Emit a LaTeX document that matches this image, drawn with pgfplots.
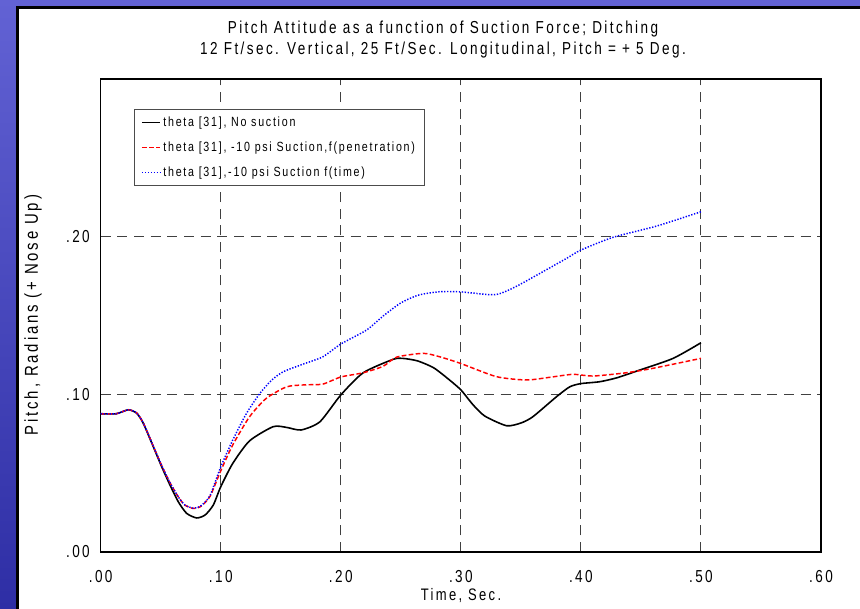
\documentclass[border=0pt]{standalone}
\usepackage{fontspec}
\setmainfont{Liberation Sans}[FakeStretch=0.78, LetterSpace=14]
\newfontfamily\legfont{Liberation Sans}[FakeStretch=0.8, LetterSpace=13]
\newfontfamily\ylabfont{Liberation Sans}[FakeStretch=0.8, LetterSpace=15]
\usepackage{pgfplots}
\pgfplotsset{compat=1.18}
\definecolor{bgtop}{RGB}{98,98,212}
\definecolor{bgbot}{RGB}{46,46,165}
\begin{document}
\begin{tikzpicture}[x=0.75pt,y=0.75pt]
\shade[top color=bgtop,bottom color=bgbot] (0,0) rectangle (860,608);
\filldraw[fill=white,draw=black,line width=1.6pt] (17.5,-20) rectangle (880,600.5);
\node[font=\fontsize{13}{15}\selectfont] at (443,579) {Pitch Attitude as a function of Suction Force; Ditching};
\node[font=\fontsize{13}{15}\selectfont] at (443,558) {12 Ft/sec. Vertical, 25 Ft/Sec. Longitudinal, Pitch = + 5 Deg.};
\node[font=\ylabfont\fontsize{14}{16}\selectfont,rotate=90] at (33,293) {Pitch, Radians (+ Nose Up)};
\node[font=\fontsize{12.5}{14}\selectfont] at (461,12.5) {Time, Sec.};
\begin{axis}[
  at={(75.53pt,42pt)}, anchor=south west,
  scale only axis, width=540.2pt, height=354.75pt,
  xmin=0, xmax=0.6, ymin=0, ymax=0.3,
  xtick={0,0.1,0.2,0.3,0.4,0.5,0.6},
  xticklabels={.00,.10,.20,.30,.40,.50,.60},
  ytick={0,0.1,0.2},
  yticklabels={.00,.10,.20},
  major tick length=0pt,
  axis line style={black,line width=1.1pt},
  grid=major,
  major grid style={black!75,line width=0.8pt,dash pattern=on 7.5pt off 5pt},
  tick label style={font=\fontsize{13}{15}\selectfont},
  xticklabel style={anchor=center,yshift=-18.5pt},
  yticklabel style={anchor=east,inner sep=0pt,xshift=-8pt},
  legend style={at={(0.046,0.937)},anchor=north west,draw=black!70,line width=1pt,
    font=\legfont\fontsize{10}{12}\selectfont,inner xsep=5pt,inner ysep=3.5pt,
    row sep=6pt, cells={anchor=west}},
]
\addplot[black,line width=1.2pt,smooth,tension=0.4,
  legend image code/.code={\draw[black,solid,line width=1.2pt] (0pt,0pt) -- (13.5pt,0pt);}] coordinates {
(0,0.0877)(0.013,0.0877)(0.023,0.0902)(0.030,0.0880)(0.0355,0.0816)(0.0438,0.0668)
(0.0508,0.0541)(0.0577,0.0425)(0.0646,0.0319)(0.0716,0.0245)(0.080,0.0216)(0.087,0.0235)
(0.0938,0.0298)(0.100,0.0414)(0.110,0.0562)(0.124,0.0705)(0.1437,0.0795)(0.155,0.0790)
(0.167,0.0774)(0.1826,0.0826)(0.200,0.0996)(0.2187,0.1137)(0.2436,0.1222)(0.2518,0.1228)
(0.264,0.1212)(0.277,0.1170)(0.2875,0.1110)(0.2998,0.1030)(0.31,0.0935)(0.32,0.0862)
(0.338,0.0801)(0.350,0.0818)(0.360,0.0858)(0.3797,0.0985)(0.3908,0.1048)(0.400,0.1068)
(0.4157,0.1080)(0.430,0.1105)(0.449,0.1154)(0.4768,0.1228)(0.500,0.1327)};
\addlegendentry{theta [31], No suction}
\addplot[red,line width=1.1pt,dash pattern=on 3.5pt off 1.8pt,smooth,tension=0.4,
  legend image code/.code={\draw[red,line width=1.2pt,dash pattern=on 3.5pt off 1.8pt] (0pt,0pt) -- (13.5pt,0pt);}] coordinates {
(0,0.0877)(0.013,0.0877)(0.023,0.0902)(0.030,0.0882)(0.0355,0.0818)(0.0438,0.0672)
(0.0508,0.0548)(0.0577,0.0440)(0.0646,0.0350)(0.070,0.0298)(0.077,0.0276)(0.083,0.0287)
(0.091,0.0352)(0.100,0.0515)(0.110,0.0679)(0.124,0.0858)(0.138,0.0975)(0.155,0.1048)
(0.170,0.1060)(0.185,0.1065)(0.200,0.1110)(0.2187,0.1137)(0.2353,0.1178)(0.2465,0.1236)
(0.2686,0.1260)(0.2825,0.1238)(0.2998,0.1196)(0.3297,0.1112)(0.3547,0.1091)(0.374,0.1108)
(0.3935,0.1127)(0.41,0.1116)(0.438,0.1137)(0.46,0.1165)(0.50,0.1228)};
\addlegendentry{theta [31], -10 psi Suction,f(penetration)}
\addplot[blue,line width=1.1pt,dash pattern=on 1pt off 1.2pt,smooth,tension=0.4,
  legend image code/.code={\draw[blue,line width=1.2pt,dash pattern=on 1pt off 1.2pt] (0pt,0pt) -- (13.5pt,0pt);}] coordinates {
(0,0.0877)(0.013,0.0877)(0.023,0.0902)(0.030,0.0882)(0.0355,0.0818)(0.0438,0.0672)
(0.0508,0.0548)(0.0577,0.0440)(0.0646,0.0350)(0.070,0.0299)(0.077,0.0278)(0.083,0.0290)
(0.091,0.0357)(0.100,0.0540)(0.110,0.0710)(0.1215,0.0880)(0.1326,0.1006)(0.1424,0.1090)
(0.152,0.1143)(0.168,0.1190)(0.185,0.1238)(0.200,0.1319)(0.2215,0.1408)(0.235,0.1495)
(0.250,0.1580)(0.265,0.1630)(0.2825,0.1651)(0.300,0.1650)(0.3283,0.1632)(0.345,0.1680)
(0.3658,0.1767)(0.388,0.1862)(0.400,0.1915)(0.4268,0.1996)(0.463,0.2067)(0.500,0.2158)};
\addlegendentry{theta [31],-10 psi Suction f(time)}
\end{axis}
\pgfresetboundingbox
\path[use as bounding box] (0,0) rectangle (860,608);
\end{tikzpicture}
\end{document}
